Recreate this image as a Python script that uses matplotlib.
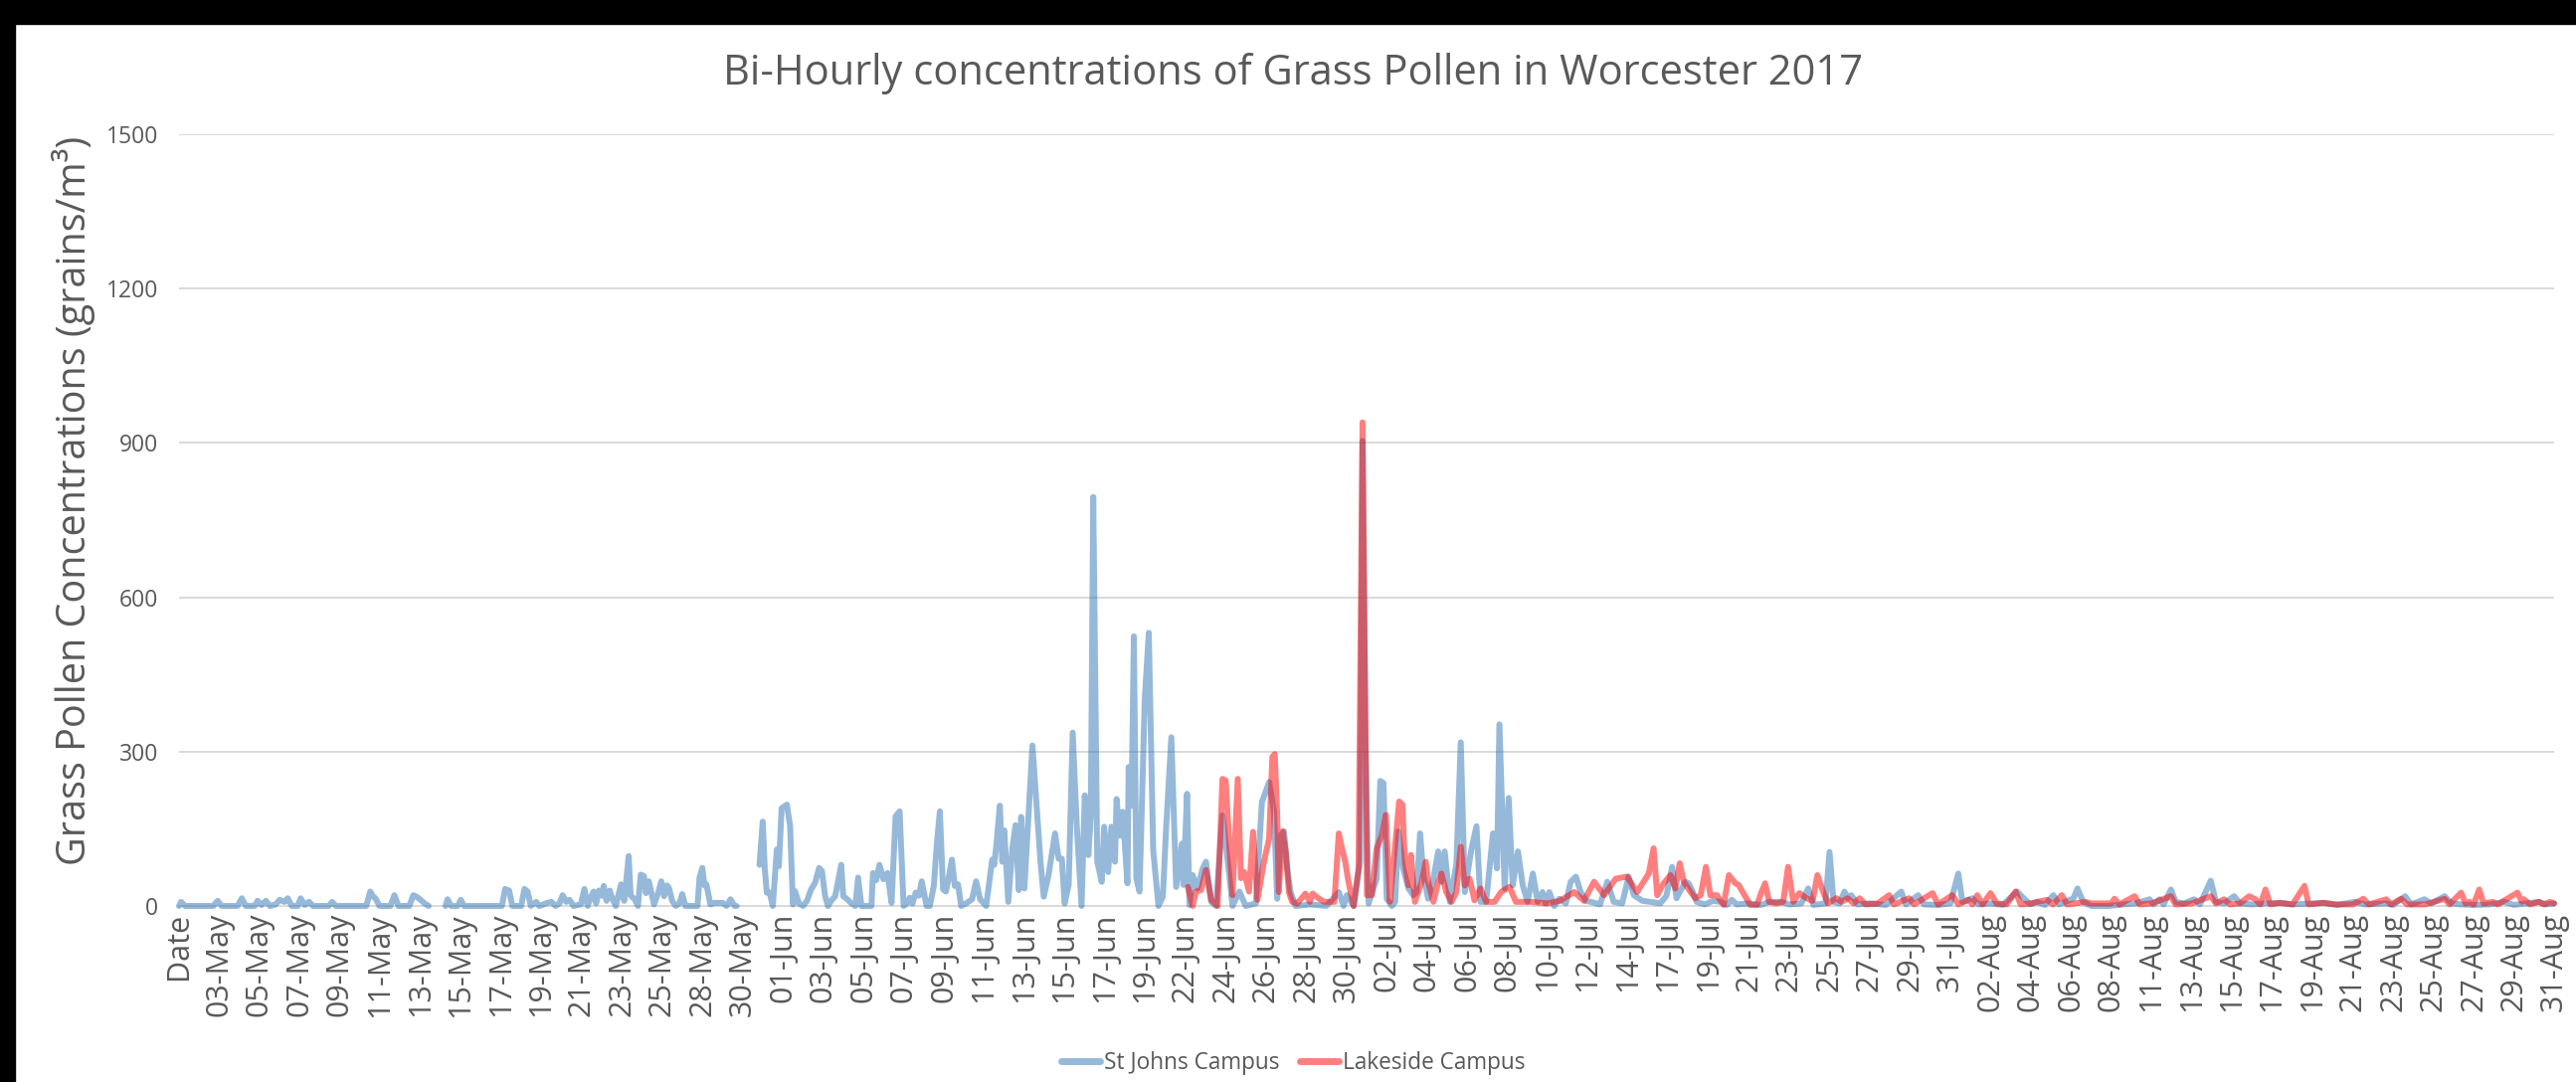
import numpy as np
import matplotlib
matplotlib.use("Agg")
import matplotlib.pyplot as plt
from matplotlib.patches import Rectangle

# ---------------- data ----------------
tick_labels = ["Date", "03-May", "05-May", "07-May", "09-May", "11-May", "13-May", "15-May",
               "17-May", "19-May", "21-May", "23-May", "25-May", "28-May", "30-May",
               "01-Jun", "03-Jun", "05-Jun", "07-Jun", "09-Jun", "11-Jun", "13-Jun", "15-Jun",
               "17-Jun", "19-Jun", "22-Jun", "24-Jun", "26-Jun", "28-Jun", "30-Jun",
               "02-Jul", "04-Jul", "06-Jul", "08-Jul", "10-Jul", "12-Jul", "14-Jul", "17-Jul",
               "19-Jul", "21-Jul", "23-Jul", "25-Jul", "27-Jul", "29-Jul", "31-Jul",
               "02-Aug", "04-Aug", "06-Aug", "08-Aug", "11-Aug", "13-Aug", "15-Aug", "17-Aug",
               "19-Aug", "21-Aug", "23-Aug", "25-Aug", "27-Aug", "29-Aug", "31-Aug"]
y_ticks = [0, 300, 600, 900, 1200, 1500]

# (category position in label steps, grains/m3); None marks missing readings
st_johns = [
    (0, 0), (0.05, 8), (0.15, 0), (0.85, 0), (0.96, 10), (1.06, 0), (1.45, 0), (1.56, 15), (1.66, 0),
    (1.88, 0), (1.95, 10), (2.05, 2), (2.16, 10), (2.26, 0), (2.4, 3), (2.5, 12), (2.62, 8), (2.7, 15),
    (2.8, 0), (2.95, 0), (3.02, 15), (3.12, 2), (3.23, 8), (3.33, 0), (3.72, 0), (3.8, 8), (3.9, 0),
    (4.65, 0), (4.75, 28), (4.82, 18), (4.88, 15), (4.98, 0), (5.25, 0), (5.35, 21), (5.45, 0),
    (5.72, 0), (5.82, 21), (5.9, 18), (6.0, 12), (6.1, 5), (6.2, 0), None,
    (6.62, 0), (6.67, 13), (6.76, 0), (6.92, 0), (7.0, 12), (7.08, 0), (8.02, 0), (8.1, 33), (8.2, 30),
    (8.28, 0), (8.5, 0), (8.58, 33), (8.66, 28), (8.74, 0), (8.87, 8), (8.95, 0), (9.15, 6), (9.25, 8),
    (9.35, 0), (9.45, 5), (9.53, 21), (9.62, 8), (9.7, 12), (9.8, 0), (9.98, 3), (10.07, 33), (10.15, 0),
    (10.22, 15), (10.3, 28), (10.36, 5), (10.43, 30), (10.5, 20), (10.55, 39), (10.62, 10), (10.7, 30),
    (10.77, 13), (10.85, 0), (10.98, 42), (11.06, 10), (11.17, 97), (11.22, 20), (11.32, 13), (11.4, 0),
    (11.47, 61), (11.55, 58), (11.6, 25), (11.67, 48), (11.8, 3), (11.9, 25), (11.98, 48), (12.05, 19),
    (12.12, 40), (12.17, 35), (12.25, 10), (12.34, 0), (12.43, 5), (12.5, 23), (12.58, 0), (12.88, 0),
    (12.93, 55), (13.0, 74), (13.05, 40), (13.1, 42), (13.2, 3), (13.3, 6), (13.5, 6), (13.6, 0),
    (13.7, 13), (13.8, 0), (13.85, 0), None,
    (14.42, 80), (14.5, 164), (14.55, 74), (14.6, 26), (14.67, 26), (14.75, 0), (14.85, 110), (14.9, 77),
    (14.97, 190), (15.1, 197), (15.18, 155), (15.25, 3), (15.3, 29), (15.4, 5), (15.5, 0), (15.6, 10),
    (15.7, 32), (15.8, 45), (15.9, 74), (15.97, 68), (16.05, 19), (16.12, 0), (16.2, 10), (16.3, 19),
    (16.45, 80), (16.5, 19), (16.6, 13), (16.7, 5), (16.8, 0), (16.87, 55), (16.95, 0), (17.2, 0),
    (17.24, 64), (17.32, 50), (17.4, 80), (17.5, 52), (17.6, 64), (17.7, 6), (17.8, 174), (17.9, 184),
    (18.0, 0), (18.08, 5), (18.15, 16), (18.22, 5), (18.3, 26), (18.38, 20), (18.45, 48), (18.57, 0),
    (18.65, 0), (18.75, 39), (18.82, 116), (18.9, 184), (18.98, 32), (19.05, 28), (19.12, 55), (19.2, 90),
    (19.27, 39), (19.35, 42), (19.43, 0), (19.55, 5), (19.7, 13), (19.8, 48), (19.9, 13), (20.05, 0),
    (20.15, 60), (20.2, 90), (20.25, 80), (20.3, 116), (20.39, 195), (20.45, 86), (20.5, 147), (20.6, 8),
    (20.7, 112), (20.78, 157), (20.86, 31), (20.92, 173), (21.0, 34), (21.2, 312), (21.4, 86), (21.48, 18),
    (21.6, 60), (21.76, 141), (21.85, 92), (21.93, 92), (22.0, 5), (22.1, 41), (22.2, 337), (22.3, 157),
    (22.42, 0), (22.5, 215), (22.59, 99), (22.65, 176), (22.71, 795), (22.81, 86), (22.92, 47),
    (22.98, 154), (23.08, 66), (23.16, 154), (23.25, 86), (23.29, 208), (23.37, 137), (23.44, 183),
    (23.56, 44), (23.59, 270), (23.66, 195), (23.72, 524), (23.78, 54), (23.86, 28), (23.99, 402),
    (24.09, 531), (24.2, 108), (24.33, 0), (24.44, 18), (24.52, 150), (24.65, 328), (24.77, 37),
    (24.91, 121), (24.95, 41), (25.04, 218), (25.1, 2), (25.18, 60), (25.3, 34), (25.43, 73), (25.51, 86),
    (25.64, 8), (25.76, 0), (25.92, 176), (26.09, 60), (26.17, 0), (26.34, 28), (26.5, 0), (26.75, 5),
    (26.9, 202), (27.08, 241), (27.2, 184), (27.28, 14), (27.37, 138), (27.45, 145), (27.53, 73),
    (27.61, 27), (27.74, 0), (28.1, 3), (28.5, 0), (28.81, 27), (28.93, 0), (29.01, 21), (29.18, 0),
    (29.34, 86), (29.4, 904), (29.47, 334), (29.55, 5), (29.67, 34), (29.75, 53), (29.84, 243),
    (29.92, 239), (30.0, 14), (30.13, 0), (30.21, 8), (30.29, 145), (30.41, 73), (30.54, 34), (30.66, 21),
    (30.74, 27), (30.83, 141), (30.91, 60), (31.03, 14), (31.16, 53), (31.28, 106), (31.36, 47),
    (31.44, 106), (31.57, 8), (31.73, 80), (31.84, 318), (31.94, 27), (32.1, 109), (32.23, 155),
    (32.33, 8), (32.47, 8), (32.64, 141), (32.74, 73), (32.8, 353), (32.93, 34), (33.03, 210), (33.13, 40),
    (33.26, 106), (33.38, 40), (33.5, 8), (33.63, 63), (33.75, 8), (33.87, 27), (33.95, 5), (34.04, 27),
    (34.16, 0), (34.29, 14), (34.45, 5), (34.57, 47), (34.7, 57), (34.82, 27), (34.95, 10), (35.07, 8),
    (35.3, 3), (35.48, 47), (35.64, 8), (35.85, 5), (36.01, 57), (36.14, 21), (36.35, 10), (36.55, 8),
    (36.8, 5), (36.95, 20), (37.09, 76), (37.2, 15), (37.3, 30), (37.42, 47), (37.5, 44), (37.6, 28),
    (37.7, 8), (37.9, 3), (38.1, 10), (38.3, 8), (38.45, 2), (38.57, 12), (38.7, 3), (39.0, 5), (39.3, 2),
    (39.5, 8), (39.8, 8), (40.0, 3), (40.3, 5), (40.47, 34), (40.6, 2), (40.9, 5), (41.0, 105), (41.1, 8),
    (41.25, 5), (41.37, 28), (41.45, 15), (41.54, 21), (41.7, 3), (42.0, 5), (42.4, 2), (42.78, 28),
    (42.9, 3), (43.2, 21), (43.35, 3), (43.7, 2), (44.0, 5), (44.2, 63), (44.3, 8), (44.55, 15), (44.7, 3),
    (45.0, 5), (45.3, 2), (45.66, 28), (45.86, 12), (46.0, 3), (46.15, 8), (46.35, 2), (46.56, 21),
    (46.7, 3), (47.06, 15), (47.16, 34), (47.3, 8), (47.5, 0), (47.92, 0), (48.3, 3), (48.6, 5),
    (48.95, 13), (49.05, 3), (49.2, 13), (49.3, 3), (49.48, 32), (49.6, 8), (49.8, 5), (50.06, 13),
    (50.2, 3), (50.47, 49), (50.6, 8), (50.8, 5), (51.05, 19), (51.2, 5), (51.5, 3), (51.8, 5), (52.2, 6),
    (52.5, 3), (53.0, 5), (53.27, 6), (53.6, 2), (54.05, 8), (54.3, 3), (54.83, 5), (55.0, 2), (55.3, 19),
    (55.45, 3), (55.78, 13), (55.95, 5), (56.28, 19), (56.45, 5), (56.7, 3), (57.0, 2), (57.4, 3),
    (57.76, 8), (58.0, 2), (58.3, 5), (58.62, 8), (58.8, 3), (59.0, 5),
]

lakeside = [
    (25.06, 37), (25.18, 0), (25.26, 28), (25.39, 31), (25.51, 70), (25.64, 12), (25.8, 0), (25.92, 247),
    (26.0, 244), (26.09, 118), (26.17, 21), (26.3, 247), (26.38, 54), (26.46, 66), (26.58, 28),
    (26.68, 144), (26.79, 12), (26.95, 86), (27.08, 131), (27.16, 290), (27.22, 295), (27.28, 177),
    (27.32, 27), (27.41, 145), (27.49, 106), (27.57, 27), (27.65, 8), (27.78, 5), (27.98, 24), (28.09, 8),
    (28.16, 24), (28.32, 14), (28.45, 8), (28.7, 8), (28.81, 141), (28.89, 112), (28.97, 86), (29.05, 47),
    (29.18, 0), (29.3, 73), (29.4, 940), (29.51, 21), (29.63, 21), (29.75, 112), (29.88, 138),
    (29.98, 177), (30.08, 8), (30.17, 83), (30.31, 203), (30.39, 197), (30.45, 86), (30.54, 40),
    (30.6, 99), (30.7, 8), (30.87, 47), (30.97, 86), (31.03, 47), (31.16, 8), (31.28, 47), (31.36, 63),
    (31.48, 27), (31.61, 8), (31.73, 27), (31.84, 115), (31.94, 40), (32.06, 53), (32.18, 11), (32.33, 34),
    (32.47, 8), (32.68, 8), (32.84, 27), (33.05, 37), (33.21, 8), (33.58, 8), (34.0, 5), (34.3, 10),
    (34.66, 27), (34.9, 10), (35.15, 47), (35.4, 21), (35.69, 53), (35.97, 57), (36.22, 27), (36.51, 63),
    (36.63, 112), (36.72, 21), (36.88, 44), (37.05, 60), (37.17, 34), (37.28, 83), (37.38, 47),
    (37.54, 28), (37.67, 15), (37.8, 21), (37.93, 76), (38.04, 21), (38.2, 21), (38.37, 2), (38.5, 60),
    (38.66, 44), (38.74, 41), (38.86, 25), (39.03, 2), (39.2, 2), (39.3, 25), (39.4, 44), (39.5, 8),
    (39.68, 5), (39.85, 8), (39.97, 76), (40.1, 8), (40.25, 25), (40.43, 15), (40.58, 10), (40.7, 60),
    (40.84, 28), (40.96, 5), (41.17, 15), (41.3, 8), (41.45, 15), (41.6, 5), (41.75, 15), (41.9, 3),
    (42.2, 5), (42.48, 21), (42.6, 3), (42.98, 15), (43.1, 3), (43.56, 25), (43.7, 3), (44.05, 21),
    (44.2, 3), (44.46, 12), (44.55, 3), (44.67, 21), (44.8, 3), (45.0, 25), (45.15, 5), (45.4, 3),
    (45.62, 28), (45.75, 3), (46.0, 5), (46.4, 12), (46.55, 3), (46.77, 21), (46.9, 3), (47.1, 5),
    (47.35, 8), (47.5, 5), (48.0, 5), (48.08, 14), (48.2, 3), (48.58, 19), (48.7, 3), (49.0, 5),
    (49.48, 19), (49.6, 3), (50.0, 5), (50.47, 19), (50.6, 5), (50.8, 13), (50.95, 3), (51.2, 5),
    (51.42, 19), (51.58, 13), (51.7, 3), (51.83, 32), (51.95, 3), (52.2, 6), (52.5, 3), (52.8, 39),
    (52.9, 3), (53.27, 6), (53.6, 3), (54.0, 3), (54.26, 14), (54.4, 3), (54.83, 13), (54.95, 3),
    (55.2, 14), (55.35, 3), (55.8, 3), (56.28, 14), (56.4, 3), (56.69, 26), (56.8, 5), (56.9, 8),
    (57.0, 3), (57.14, 32), (57.25, 5), (57.47, 8), (57.6, 3), (58.09, 26), (58.2, 8), (58.25, 13),
    (58.4, 3), (58.62, 8), (58.75, 3), (58.9, 8), (59.0, 5),
]

series_names = ["St Johns Campus", "Lakeside Campus"]


def unpack(pairs):
    xs = np.array([np.nan if p is None else p[0] for p in pairs], dtype=float)
    ys = np.array([np.nan if p is None else p[1] for p in pairs], dtype=float)
    return xs, ys


# ---------------- figure ----------------
plt.rcParams["font.family"] = ["Open Sans", "DejaVu Sans"]
TXT = "#595959"
W, H = 2590, 1088
fig = plt.figure(figsize=(W / 100, H / 100), dpi=100)
fig.patch.set_facecolor("white")

x0, x1 = 180, 2568
y0, y1 = 135, 911
ax = fig.add_axes([x0 / W, 1 - y1 / H, (x1 - x0) / W, (y1 - y0) / H])

LW = 4.3
xb, yb = unpack(st_johns)
xr, yr = unpack(lakeside)
ax.plot(xb, yb, color="#2E75B6", alpha=0.5, lw=LW, solid_joinstyle="round",
        solid_capstyle="round", clip_on=False, label=series_names[0], zorder=3)
ax.plot(xr, yr, color="#FF0000", alpha=0.5, lw=LW, solid_joinstyle="round",
        solid_capstyle="round", clip_on=False, label=series_names[1], zorder=4)

ax.set_xlim(0, len(tick_labels) - 1)
ax.set_ylim(0, 1500)
ax.set_xticks(range(len(tick_labels)))
ax.set_xticklabels(tick_labels, rotation=90, fontsize=22, color=TXT)
ax.set_yticks(y_ticks)
ax.set_yticklabels([str(v) for v in y_ticks], fontsize=16.5, color=TXT)
ax.tick_params(axis="x", length=0, pad=5)
ax.tick_params(axis="y", length=0, pad=15)
ax.grid(axis="y", color="#D9D9D9", lw=1.4, zorder=0)
ax.set_axisbelow(True)
for s in ["top", "right", "left"]:
    ax.spines[s].set_visible(False)
ax.spines["bottom"].set_color("#D9D9D9")
ax.spines["bottom"].set_linewidth(1.4)

ax.set_ylabel("Grass Pollen Concentrations (grains/m³)", fontsize=28.5, color=TXT, va="center")
ax.yaxis.set_label_coords((74 - x0) / (x1 - x0), (911 - 503) / (y1 - y0))

fig.text(1300 / W, 1 - 74 / H, "Bi-Hourly concentrations of Grass Pollen in Worcester 2017",
         ha="center", va="center", fontsize=30, color=TXT)

leg = fig.legend(loc="center", bbox_to_anchor=(1300 / W, 1 - 1069 / H), ncol=2, frameon=False,
                 fontsize=16.3, handlelength=1.75, handletextpad=0.15, columnspacing=0.9,
                 borderpad=0.1)
for t in leg.get_texts():
    t.set_color(TXT)
for h in leg.get_lines():
    h.set_linewidth(5)
    h.set_solid_capstyle("round")

# black border strips of the original screenshot
fig.patches.append(Rectangle((0, 1 - 24 / H), 1, 24 / H, transform=fig.transFigure,
                             color="black", zorder=10))
fig.patches.append(Rectangle((0, 0), 15 / W, 1, transform=fig.transFigure,
                             color="black", zorder=10))

fig.savefig("out.png", dpi=100, facecolor="white")
